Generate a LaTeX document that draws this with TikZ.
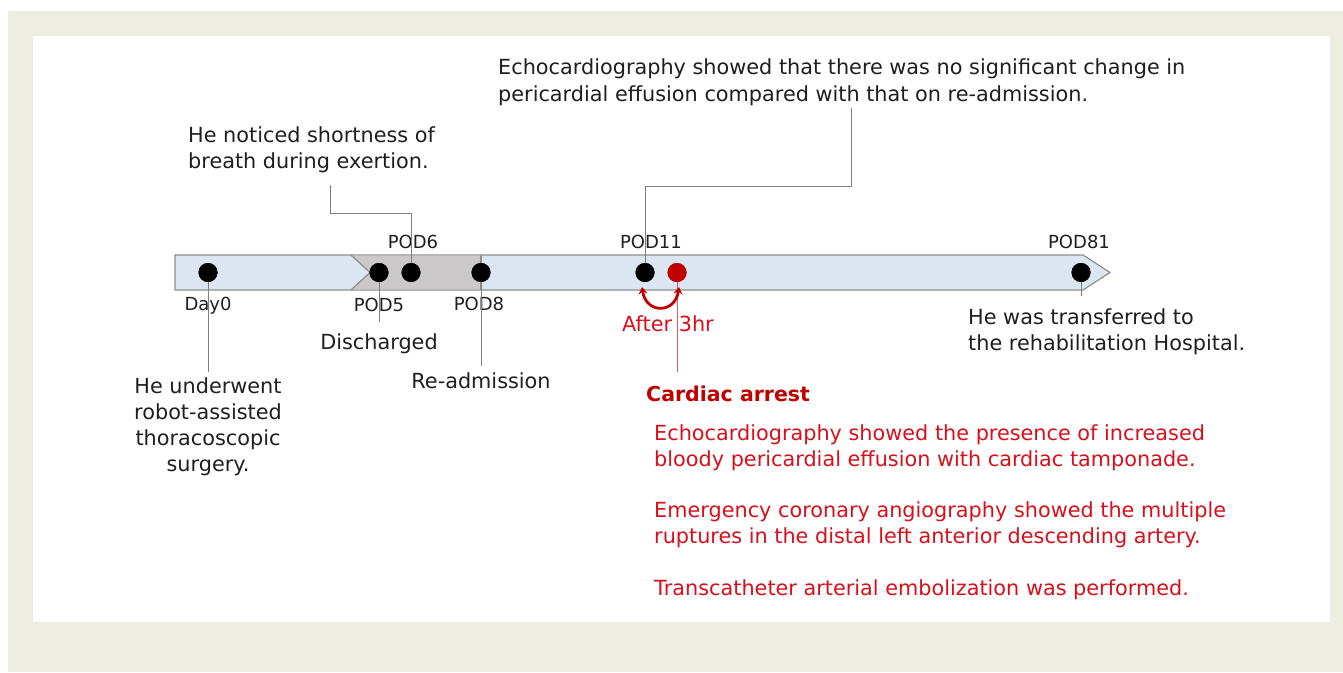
\documentclass[tikz,border=0pt]{standalone}
\usepackage{fontspec}
\setmainfont{DejaVu Sans}
\usetikzlibrary{arrows.meta}
\definecolor{beige}{HTML}{EEEDE2}
\definecolor{barblue}{HTML}{DCE6F2}
\definecolor{bargray}{HTML}{CAC8C8}
\definecolor{edgegray}{HTML}{8E8E8E}
\definecolor{leadgray}{HTML}{7F7F7F}
\definecolor{darkred}{HTML}{C00000}
\definecolor{txtred}{HTML}{D8101C}
\tikzset{
  txt/.style={inner sep=0pt, font=\fontsize{20.8}{26}\selectfont, text=black!88},
  podlbl/.style={inner sep=0pt, font=\fontsize{18}{22}\selectfont, text=black!88},
  redtxt/.style={txt, text=txtred, align=left},
  dot/.style={circle, fill=black, inner sep=0pt, minimum size=19pt},
  leader/.style={draw=leadgray, line width=0.9pt},
}
\begin{document}
\begin{tikzpicture}[x=1pt,y=-1pt]
\useasboundingbox (0,0) rectangle (1343,672);
\fill[white] (0,0) rectangle (1343,672);
\fill[beige] (8,11) rectangle (1343,672);
\fill[white] (33,36) rectangle (1330,622);
% bar
\draw[edgegray, fill=barblue, line width=1.2pt] (175,255) -- (1083,255) -- (1110,272.5) -- (1083,290) -- (175,290) -- cycle;
\fill[bargray] (351,255.6) -- (481,255.6) -- (481,289.4) -- (351,289.4) -- (370,272.5) -- cycle;
\draw[edgegray, line width=1.2pt] (351,255) -- (370,272.5) -- (351,290);
\draw[edgegray, line width=1.2pt] (481,255) -- (481,290);
% dots
\node[dot] (d0) at (208,272.5) {};
\node[dot] (d5) at (379,272.5) {};
\node[dot] (d6) at (411,272.5) {};
\node[dot] (d8) at (481,272.5) {};
\node[dot] (d11) at (645,272.5) {};
\node[dot, fill=darkred] (dr) at (677,272.5) {};
\node[dot] (d81) at (1081,272.5) {};
% POD labels
\node[podlbl] (l6) at (413,242) {POD6};
\node[podlbl] (l11) at (651,242) {POD11};
\node[podlbl] (l81) at (1079,242) {POD81};
\node[podlbl, anchor=mid] (l0) at (208,308) {Day0};
\node[podlbl] (l5) at (379,305) {POD5};
\node[podlbl] (l8) at (479,304) {POD8};
% texts
\node[txt, anchor=north west, align=left, font=\fontsize{20.8}{27}\selectfont] (t11) at (498,58) {Echocardiography showed that there was no significant change in\\pericardial effusion compared with that on re-admission.};
\node[txt, anchor=north west, align=left] (t6) at (188,126) {He noticed shortness of\\breath during exertion.};
\node[txt, anchor=north, align=center] (t0) at (208,377) {He underwent\\robot-assisted\\thoracoscopic\\surgery.};
\node[txt, anchor=mid] (t5) at (379,347) {Discharged};
\node[txt, anchor=mid] (t8) at (481,386) {Re-admission};
\node[txt, anchor=north west, align=left] (t81) at (968,308) {He was transferred to\\the rehabilitation Hospital.};
\node[txt, anchor=mid, text=txtred] (t3) at (668,329) {After 3hr};
\node[txt, anchor=mid west, text=darkred, font=\fontsize{20.5}{26}\selectfont\bfseries] (tca) at (646,399) {Cardiac arrest};
\node[redtxt, anchor=north west] (r1) at (654,424) {Echocardiography showed the presence of increased\\bloody pericardial effusion with cardiac tamponade.};
\node[redtxt, anchor=north west] (r2) at (654,501) {Emergency coronary angiography showed the multiple\\ruptures in the distal left anterior descending artery.};
\node[redtxt, anchor=north west] (r3) at (654,579) {Transcatheter arterial embolization was performed.};
% leader coordinates
\coordinate (e0) at (208,372);
\coordinate (e5) at (379,322);
\coordinate (e8) at (481,366);
\coordinate (b6a) at (411,213);
\coordinate (b6b) at (330,213);
\coordinate (e6) at (330,185);
\coordinate (b11a) at (645,186);
\coordinate (b11b) at (851,186);
\coordinate (e11) at (851,108);
\coordinate (er) at (677,372);
\coordinate (e81) at (1081,296);
\coordinate (a1) at (642,287);
\coordinate (a2) at (679,287);
\draw[leader] (d0.center) -- (e0);
\draw[leader] (d5.center) -- (e5);
\draw[leader] (d8.center) -- (e8);
\draw[leader] (d6.center) -- (b6a) -- (b6b) -- (e6);
\draw[leader] (d11.center) -- (b11a) -- (b11b) -- (e11);
\draw[leader, draw=txtred!70] (dr.center) -- (er);
\draw[leader] (d81.center) -- (e81);
% redraw dots on top
\node[dot] at (d0) {};
\node[dot] at (d5) {};
\node[dot] at (d6) {};
\node[dot] at (d8) {};
\node[dot] at (d11) {};
\node[dot, fill=darkred] at (dr) {};
\node[dot] at (d81) {};
% curved double arrow
\draw[darkred, line width=2.8pt, {Stealth[length=7pt,width=9pt]}-{Stealth[length=7pt,width=9pt]}] (a1) .. controls (646,314) and (675,314) .. (a2);
\end{tikzpicture}
\end{document}
